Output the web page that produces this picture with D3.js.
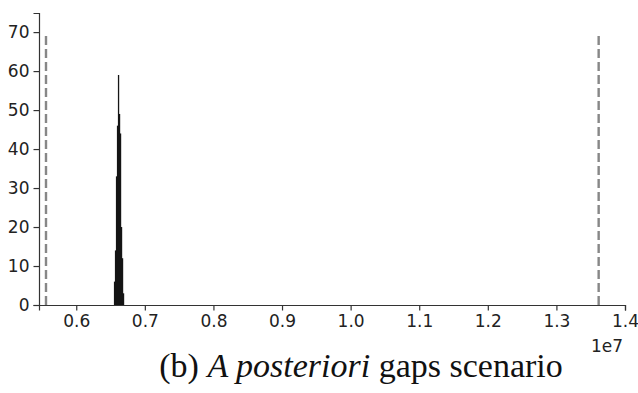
<!DOCTYPE html>
<html>
<head>
<meta charset="utf-8">
<script src="https://cdn.jsdelivr.net/npm/d3@7"></script>
<style>
  body { margin: 0; background: #fff; }
  svg { display: block; }
</style>
</head>
<body>
<div id="chart"></div>
<script>
// Histogram data (x in units of 1e7)
const binStart = 0.6549;
const binWidth = 0.001456;
const counts = [6, 14, 33, 46, 59, 49, 44, 20, 12, 3];

// Dashed reference lines
const refLines = [0.5559, 1.3616];
const refHeight = 69;

const xTicks = [0.6, 0.7, 0.8, 0.9, 1.0, 1.1, 1.2, 1.3, 1.4];
const yTicks = [0, 10, 20, 30, 40, 50, 60, 70];

const W = 638, H = 393;
const margin = {top: 13, right: 13, bottom: 88, left: 39};
const width = W - margin.left - margin.right,
      height = H - margin.top - margin.bottom;

const svg = d3.select("#chart")
    .append("svg")
    .attr("width", W)
    .attr("height", H);

const g = svg.append("g")
    .attr("transform", `translate(${margin.left}, ${margin.top})`);

const xScale = d3.scaleLinear().domain([0.5457, 1.4]).range([0, width]);
const yScale = d3.scaleLinear().domain([0, 74.9]).range([height, 0]);

// Bars
const bins = counts.map((c, i) => ({x0: binStart + i * binWidth, x1: binStart + (i + 1) * binWidth, c}));
g.selectAll("rect.bar")
    .data(bins)
    .enter()
    .append("rect")
    .attr("class", "bar")
    .attr("x", d => xScale(d.x0))
    .attr("width", d => xScale(d.x1) - xScale(d.x0) + 0.3)
    .attr("y", d => yScale(d.c))
    .attr("height", d => yScale(0) - yScale(d.c))
    .attr("fill", "#151515");

// Dashed vertical lines
g.selectAll("line.ref")
    .data(refLines)
    .enter()
    .append("line")
    .attr("class", "ref")
    .attr("x1", d => xScale(d))
    .attr("x2", d => xScale(d))
    .attr("y1", yScale(0))
    .attr("y2", yScale(refHeight))
    .attr("stroke", "#878787")
    .attr("stroke-width", 2.4)
    .attr("stroke-dasharray", "9,4");

// Axes
const xAxis = g.append("g")
    .attr("transform", `translate(0,${height})`)
    .call(d3.axisBottom(xScale).tickValues(xTicks).tickFormat(d3.format(".1f")).tickSize(5.5).tickPadding(4));

const yAxis = g.append("g")
    .call(d3.axisLeft(yScale).tickValues(yTicks).tickSize(5.5).tickPadding(4));

[xAxis, yAxis].forEach(a => {
    a.attr("font-family", "DejaVu Sans").attr("font-size", 17);
    a.selectAll("path, line").attr("stroke", "#333").attr("stroke-width", 1.2);
    a.selectAll("text").attr("fill", "#222");
});

// Offset label
svg.append("text")
    .attr("x", 623)
    .attr("y", 352)
    .attr("text-anchor", "end")
    .attr("font-family", "DejaVu Sans")
    .attr("font-size", 17)
    .attr("fill", "#222")
    .text("1e7");

// Caption
const cap = svg.append("text")
    .attr("x", 361)
    .attr("y", 377)
    .attr("text-anchor", "middle")
    .attr("fill", "#111")
    .attr("font-family", "Liberation Serif")
    .attr("font-size", 34);
cap.append("tspan").text("(b) ");
cap.append("tspan").attr("font-style", "italic").text("A posteriori");
cap.append("tspan").text(" gaps scenario");
</script>
</body>
</html>
